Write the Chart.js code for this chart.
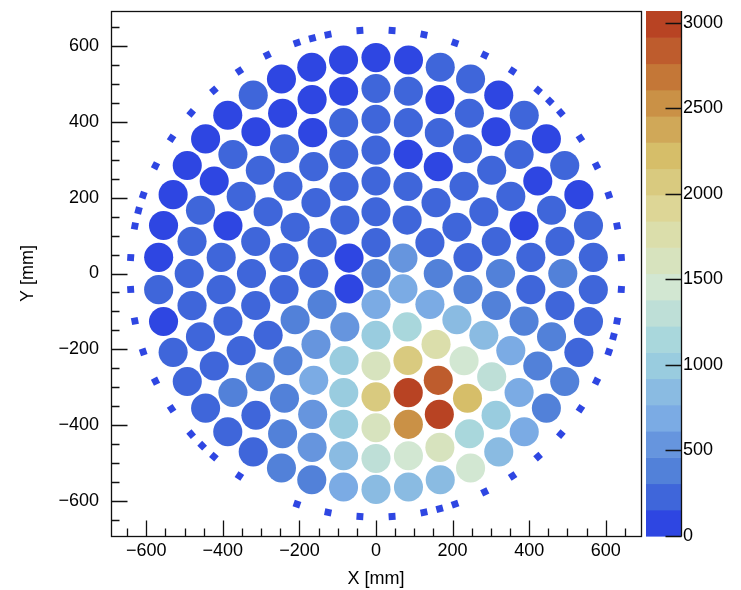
<!DOCTYPE html>
<html>
<head>
<meta charset="utf-8">
<script src="https://cdn.jsdelivr.net/npm/chart.js@4.4.1/dist/chart.umd.min.js"></script>
<style>
  html, body { margin: 0; padding: 0; background: #fff; }
  #wrap { width: 741px; height: 590px; }
</style>
</head>
<body>
<div id="wrap"><canvas id="c" width="741" height="590"></canvas></div>
<script>
// Charge seen by each PMT, ring by ring from the centre.
// Ring n holds 6n tubes, listed counter-clockwise from the tube at the top (90 deg).
const ring0 = [400];
const ring1 = [250, 95, 110, 720, 690, 500];
const ring2 = [230, 260, 210, 280, 380, 530, 1010, 1150, 700, 400, 270, 240];
const ring3 = [240, 220, 260, 250, 230, 270, 410, 560, 990, 1620, 2090, 1780,
               850, 380, 260, 240, 220, 250];
const ring4 = [230, 250, 220, 260, 240, 280, 250, 230, 270, 420, 680, 1000,
               2060, 3070, 2850, 1450, 830, 380, 400, 260, 240, 220, 120, 100];
const ring5 = [240, 220, 100, 250, 230, 260, 110, 240, 220, 270,
               250, 390, 420, 540, 980, 1600, 2540, 2990, 2220, 1300,
               700, 400, 250, 230, 90, 260, 240, 210, 250, 230];
const ring6 = [250, 90, 120, 80, 110, 240, 100, 260, 230, 250, 220, 270,
               240, 390, 280, 410, 560, 850, 1300, 1450, 1610, 1150, 1000, 700,
               400, 380, 260, 360, 240, 260, 110, 230, 90, 250, 120, 240];
const ring7 = [90, 120, 80, 100, 250, 110, 90, 120, 100, 80, 110, 240, 100, 260,
               230, 250, 270, 240, 390, 420, 720, 850, 830, 860, 1470, 840, 690, 400,
               380, 250, 230, 260, 240, 220, 100, 250, 110, 240, 90, 260, 230, 120];
const rings = [ring0, ring1, ring2, ring3, ring4, ring5, ring6, ring7];

// Small square modules on the outer rim (angle in degrees) - all empty.
const rimAngles = [3.75, 11.25, 18.75, 26.25, 33.75, 41.25, 45, 48.75, 56.25, 63.75,
                   71.25, 78.75, 86.25, 93.75, 101.25, 105, 108.75, 116.25, 123.75,
                   131.25, 138.75, 146.25, 153.75, 161.25, 165, 168.75, 176.25, 183.75,
                   191.25, 198.75, 206.25, 213.75, 221.25, 225, 228.75, 236.25, 251.25,
                   258.75, 266.25, 273.75, 281.25, 285, 288.75, 296.25, 303.75, 311.25,
                   318.75, 326.25, 333.75, 341.25, 345, 348.75, 356.25];
const rimValue = 0;

// Detector geometry (mm)
const ringPitch = 81.3;
const pmtRadius = 38;
const rimRadius = 642;
const rimSide = 18;

// Axes
const axisLimit = 692;
const xTicks = [-600, -400, -200, 0, 200, 400, 600];
const yTicks = [-600, -400, -200, 0, 200, 400, 600];
const zTicks = [0, 500, 1000, 1500, 2000, 2500, 3000];
const nContours = 20;

// ---- points ----
const pmtPoints = [];
rings.forEach((vals, n) => {
  vals.forEach((v, k) => {
    const a = (90 + k * 360 / vals.length) * Math.PI / 180;
    pmtPoints.push({ x: n * ringPitch * Math.cos(a), y: n * ringPitch * Math.sin(a), v });
  });
});
const rimPoints = rimAngles.map(deg => {
  const a = deg * Math.PI / 180;
  return { x: rimRadius * Math.cos(a), y: rimRadius * Math.sin(a), a: deg, v: rimValue };
});

const zMin = 0;
const zMax = Math.max(...rings.flat());

// ---- light-temperature palette, 255 shades split into contour bands ----
const stops = [0, 0.125, 0.25, 0.375, 0.5, 0.625, 0.75, 0.875, 1];
const red   = [31, 71, 123, 160, 210, 222, 214, 199, 183];
const green = [40, 117, 171, 211, 231, 220, 190, 132, 65];
const blue  = [234, 214, 228, 222, 210, 160, 105, 60, 34];
function paletteColor(p) {
  const N = 255;
  for (let g = 1; g < stops.length; g++) {
    const lo = Math.floor(N * stops[g - 1]);
    const hi = Math.floor(N * stops[g]);
    if (p < hi || g === stops.length - 1) {
      const f = (p - lo) / (hi - lo);
      const c = arr => Math.round(arr[g - 1] + f * (arr[g] - arr[g - 1]));
      return `rgb(${c(red)},${c(green)},${c(blue)})`;
    }
  }
}
const bandColors = [];
for (let i = 0; i < nContours; i++) {
  bandColors.push(paletteColor(Math.floor((i + 0.99) * 255 / nContours)));
}
function colorFor(v) {
  let i = Math.floor((v - zMin) / (zMax - zMin) * nContours);
  i = Math.max(0, Math.min(nContours - 1, i));
  return bandColors[i];
}
const mmToPx = (chart, d) =>
  Math.abs(chart.scales.x.getPixelForValue(d) - chart.scales.x.getPixelForValue(0));
const fmt = v => (v < 0 ? '\u2212' + Math.abs(v) : String(v));

// ---- frame, inward ticks and colour bar ----
const framePlugin = {
  id: 'frame',
  afterDraw(chart) {
    const { ctx, chartArea: a, scales: { x, y, z } } = chart;
    ctx.save();
    ctx.strokeStyle = '#111';
    ctx.lineWidth = 1.3;

    ctx.strokeRect(a.left + 0.5, a.top + 0.5, a.right - a.left, a.bottom - a.top);

    ctx.beginPath();
    for (let v = -650; v <= 650; v += 50) {
      const len = xTicks.includes(v) ? 16 : 8;
      const px = Math.round(x.getPixelForValue(v)) + 0.5;
      ctx.moveTo(px, a.bottom + 0.5);
      ctx.lineTo(px, a.bottom + 0.5 - len);
      const lenY = yTicks.includes(v) ? 16 : 8;
      const py = Math.round(y.getPixelForValue(v)) + 0.5;
      ctx.moveTo(a.left + 0.5, py);
      ctx.lineTo(a.left + 0.5 + lenY, py);
    }
    ctx.stroke();

    // colour bar
    const cbLeft = a.right + 5;
    const cbRight = a.right + 40.5;
    const dz = (zMax - zMin) / nContours;
    for (let i = 0; i < nContours; i++) {
      const y0 = z.getPixelForValue(zMin + i * dz);
      const y1 = z.getPixelForValue(zMin + (i + 1) * dz);
      ctx.fillStyle = bandColors[i];
      ctx.fillRect(cbLeft, y1, cbRight - cbLeft, y0 - y1 + 0.6);
    }
    ctx.beginPath();
    ctx.moveTo(cbRight, z.getPixelForValue(zMax));
    ctx.lineTo(cbRight, z.getPixelForValue(zMin) + 0.5);
    zTicks.forEach(v => {
      const py = Math.round(z.getPixelForValue(v)) + 0.5;
      ctx.moveTo(cbRight, py);
      ctx.lineTo(cbRight - 16, py);
    });
    ctx.stroke();
    ctx.restore();
  }
};

Chart.defaults.font.family = "'Liberation Sans', Arial, Helvetica, sans-serif";
Chart.defaults.font.size = 18;
Chart.defaults.color = '#000';

const hiddenGrid = { display: false, drawTicks: false };
const noPad = s => { s.paddingTop = 0; s.paddingBottom = 0; s.paddingLeft = 0; s.paddingRight = 0; };

new Chart(document.getElementById('c'), {
  type: 'scatter',
  data: {
    datasets: [
      {
        data: pmtPoints,
        pointRadius: c => mmToPx(c.chart, pmtRadius),
        pointBackgroundColor: c => colorFor(c.raw.v),
        pointBorderWidth: 0,
        pointBorderColor: 'rgba(0,0,0,0)'
      },
      {
        data: rimPoints,
        pointStyle: 'rect',
        pointRotation: c => -c.raw.a,
        pointRadius: c => mmToPx(c.chart, rimSide) / Math.SQRT2,
        pointBackgroundColor: c => colorFor(c.raw.v),
        pointBorderWidth: 0,
        pointBorderColor: 'rgba(0,0,0,0)'
      }
    ]
  },
  options: {
    responsive: false,
    animation: false,
    events: [],
    layout: { padding: { top: 11, left: 0, right: 0, bottom: 0 } },
    plugins: { legend: { display: false }, tooltip: { enabled: false } },
    scales: {
      x: {
        type: 'linear', position: 'bottom',
        min: -axisLimit, max: axisLimit,
        grid: hiddenGrid, border: { display: false },
        ticks: { padding: 4, autoSkip: false, maxRotation: 0, callback: fmt },
        title: { display: true, text: 'X [mm]', padding: { top: 1, bottom: 0 } },
        afterBuildTicks: s => { s.ticks = xTicks.map(v => ({ value: v })); },
        afterFit: s => { s.height = 54; noPad(s); }
      },
      y: {
        type: 'linear', position: 'left',
        min: -axisLimit, max: axisLimit,
        grid: hiddenGrid, border: { display: false },
        ticks: { padding: 12, autoSkip: false, callback: fmt },
        title: { display: true, text: 'Y [mm]', padding: { top: 17, bottom: 0 } },
        afterBuildTicks: s => { s.ticks = yTicks.map(v => ({ value: v })); },
        afterFit: s => { s.width = 111; noPad(s); }
      },
      z: {
        type: 'linear', position: 'right',
        min: zMin, max: zMax,
        grid: hiddenGrid, border: { display: false },
        ticks: { padding: 42, autoSkip: false, callback: fmt },
        afterBuildTicks: s => { s.ticks = zTicks.map(v => ({ value: v })); },
        afterFit: s => { s.width = 100; noPad(s); }
      }
    }
  },
  plugins: [framePlugin]
});
</script>
</body>
</html>
